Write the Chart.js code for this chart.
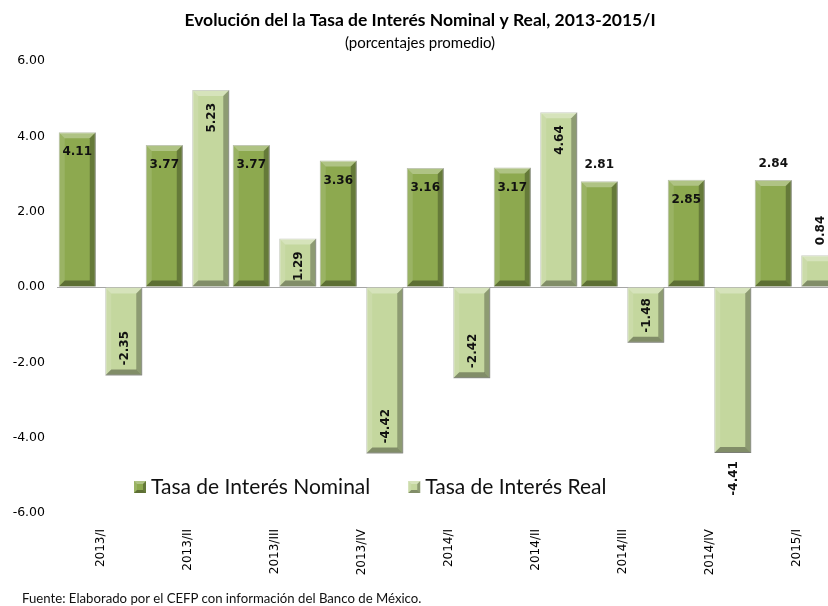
<!DOCTYPE html>
<html>
<head>
<meta charset="utf-8">
<script src="https://cdn.jsdelivr.net/npm/chart.js@4.4.1/dist/chart.umd.min.js"></script>
<style>
    body { margin: 0; background: #fff; overflow: hidden; }
    #wrap { position: relative; width: 828px; height: 606px; overflow: hidden; }
    #chart { position: absolute; left: 0; top: 0; }
    #fuente {
        position: absolute; left: 22px; top: 590px;
        font: 13.2px Lato, sans-serif; color: #111; white-space: nowrap;
    }
</style>
</head>
<body>
<div id="wrap">
    <canvas id="chart" width="850" height="606"></canvas>
    <div id="fuente">Fuente: Elaborado por el CEFP con información del Banco de México.</div>
</div>
<script>
const periodos = ['2013/I', '2013/II', '2013/III', '2013/IV', '2014/I', '2014/II', '2014/III', '2014/IV', '2015/I'];
const tasaNominal = [4.11, 3.77, 3.77, 3.36, 3.16, 3.17, 2.81, 2.85, 2.84];
const tasaReal = [-2.35, 5.23, 1.29, -4.42, -2.42, 4.64, -1.48, -4.41, 0.84];
const yTicks = [-6, -4, -2, 0, 2, 4, 6];

const colorNominal = '#8da94f';
const colorReal = '#c4d79e';

// beveled look like the Excel original
function drawBevel(ctx, left, top, right, bottom, b) {
    const shapes = [
        [[left, top], [right, top], [right - b, top + b], [left + b, top + b], 'rgba(255,255,255,0.30)'],
        [[left, top], [left + b, top + b], [left + b, bottom - b], [left, bottom], 'rgba(255,255,255,0.12)'],
        [[right, top], [right - b, top + b], [right - b, bottom - b], [right, bottom], 'rgba(0,0,0,0.28)'],
        [[left, bottom], [left + b, bottom - b], [right - b, bottom - b], [right, bottom], 'rgba(0,0,0,0.34)']
    ];
    shapes.forEach(s => {
        ctx.beginPath();
        ctx.moveTo(s[0][0], s[0][1]);
        for (let k = 1; k < 4; k++) ctx.lineTo(s[k][0], s[k][1]);
        ctx.closePath();
        ctx.fillStyle = s[4];
        ctx.fill();
    });
}

const bevelPlugin = {
    id: 'bevel',
    afterDatasetsDraw(chart) {
        const ctx = chart.ctx;
        ctx.save();
        chart.data.datasets.forEach((ds, i) => {
            chart.getDatasetMeta(i).data.forEach(bar => {
                const p = bar.getProps(['x', 'y', 'base', 'width'], true);
                const top = Math.min(p.y, p.base);
                const bottom = Math.max(p.y, p.base);
                drawBevel(ctx, p.x - p.width / 2, top, p.x + p.width / 2, bottom, 6);
            });
        });
        ctx.restore();
    }
};

const labelPlugin = {
    id: 'valueLabels',
    afterDatasetsDraw(chart, args, opts) {
        const ctx = chart.ctx;
        ctx.save();
        ctx.font = 'bold 12px "DejaVu Sans"';
        ctx.fillStyle = '#111';
        chart.data.datasets.forEach((ds, i) => {
            const outside = opts.outside[i] || [];
            chart.getDatasetMeta(i).data.forEach((bar, j) => {
                const v = ds.data[j];
                const txt = v.toFixed(2);
                const top = Math.min(bar.y, bar.base);
                const bottom = Math.max(bar.y, bar.base);
                const out = outside.includes(j);
                if (i === 0) {
                    ctx.textAlign = 'center';
                    ctx.textBaseline = 'middle';
                    ctx.fillText(txt, bar.x, out ? top - 16 : top + 20);
                } else {
                    let ay, align;
                    if (v >= 0) {
                        ay = out ? top - 10 : top + 13;
                        align = out ? 'left' : 'right';
                    } else {
                        ay = out ? bottom + 8 : bottom - 10;
                        align = out ? 'right' : 'left';
                    }
                    ctx.save();
                    ctx.translate(bar.x + 1, ay);
                    ctx.rotate(-Math.PI / 2);
                    ctx.textAlign = align;
                    ctx.textBaseline = 'middle';
                    ctx.fillText(txt, 0, 0);
                    ctx.restore();
                }
            });
        });
        ctx.restore();
    }
};

const legendPlugin = {
    id: 'innerLegend',
    afterDraw(chart) {
        const ctx = chart.ctx;
        ctx.save();
        ctx.font = '21px Lato';
        ctx.textBaseline = 'middle';
        ctx.textAlign = 'left';
        let x = 134;
        const y = 487;
        chart.data.datasets.forEach(ds => {
            ctx.fillStyle = ds.backgroundColor;
            ctx.fillRect(x, y - 6, 12, 12);
            drawBevel(ctx, x, y - 6, x + 12, y + 6, 3);
            ctx.fillStyle = '#111';
            ctx.fillText(ds.label, x + 17, y);
            x += 17 + ctx.measureText(ds.label).width + 38;
        });
        ctx.restore();
    }
};

new Chart(document.getElementById('chart').getContext('2d'), {
    type: 'bar',
    data: {
        labels: periodos,
        datasets: [
            {
                label: 'Tasa de Interés Nominal',
                data: tasaNominal,
                backgroundColor: colorNominal,
                borderColor: 'rgba(80,100,40,0.5)',
                borderWidth: 1,
                categoryPercentage: 1.069,
                barPercentage: 0.796
            },
            {
                label: 'Tasa de Interés Real',
                data: tasaReal,
                backgroundColor: colorReal,
                borderColor: 'rgba(120,130,100,0.5)',
                borderWidth: 1,
                categoryPercentage: 1.069,
                barPercentage: 0.796
            }
        ]
    },
    options: {
        responsive: false,
        animation: false,
        layout: { padding: { left: 0, right: 10, top: 0, bottom: 0 } },
        plugins: {
            legend: { display: false },
            tooltip: { enabled: false },
            title: {
                display: true,
                text: 'Evolución del la Tasa de Interés Nominal y Real, 2013-2015/I',
                color: '#000',
                font: { family: 'Lato', size: 17.5, weight: 'bold', lineHeight: 1.2 },
                padding: { top: 10, bottom: 3 }
            },
            subtitle: {
                display: true,
                text: '(porcentajes promedio)',
                color: '#000',
                font: { family: 'Lato', size: 15, lineHeight: 1.2 },
                padding: { top: 0, bottom: 9 }
            },
            valueLabels: { outside: { 0: [6, 8], 1: [7, 8] } }
        },
        scales: {
            x: {
                grid: { display: false },
                border: { display: false },
                ticks: {
                    minRotation: 90,
                    maxRotation: 90,
                    color: '#000',
                    padding: 8,
                    font: { family: 'DejaVu Sans', size: 12 }
                },
                afterFit: s => { s.height = 93; }
            },
            y: {
                min: -6,
                max: 6,
                afterBuildTicks: s => { s.ticks = yTicks.map(v => ({ value: v })); },
                ticks: {
                    color: '#000',
                    padding: 12,
                    font: { family: 'DejaVu Sans', size: 12.5 },
                    callback: v => v.toFixed(2)
                },
                grid: {
                    drawTicks: false,
                    color: c => (c.tick && c.tick.value === 0) ? '#a6a6a6' : 'rgba(0,0,0,0)'
                },
                border: { display: false },
                afterFit: s => { s.width = 57; }
            }
        }
    },
    plugins: [bevelPlugin, labelPlugin, legendPlugin]
});
</script>
</body>
</html>
